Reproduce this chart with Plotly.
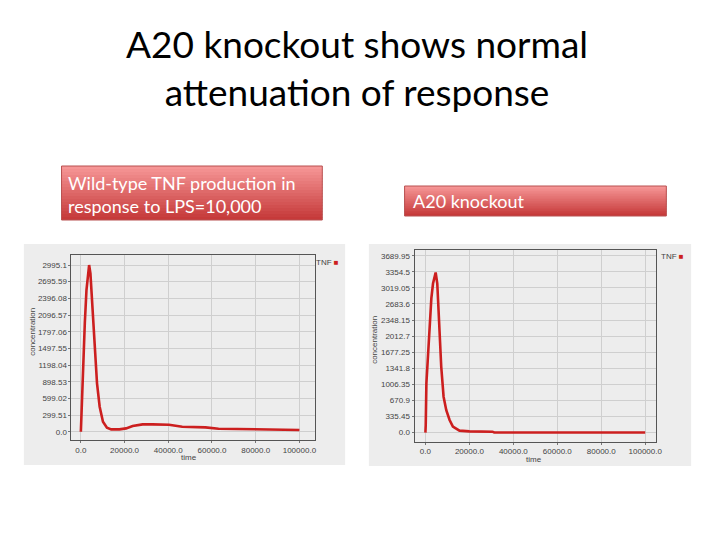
import plotly.graph_objects as go

# the page adds an 8px body margin, so the figure is drawn 8px in from the corner
OFF = 8
W, H = 720 - 2 * OFF, 540 - 2 * OFF

# wild-type TNF (left chart)
wt_time = [0, 450, 1060, 1810, 2570, 3320, 3780, 4380, 5290, 6340, 7400, 8610, 10120,
           11930, 13900, 17670, 20700, 23700, 28250, 32780, 40330, 46380, 57000,
           63000, 78100, 90180, 100000]
wt_tnf = [0, 570, 1170, 1950, 2545, 2905, 2995, 2845, 2246, 1468, 869, 449, 180,
          72, 42, 42, 60, 102, 132, 132, 126, 90, 78, 54, 42, 30, 30]
wt_ticks = [0.0, 299.51, 599.02, 898.53, 1198.04, 1497.55, 1797.06, 2096.57, 2396.08,
            2695.59, 2995.1]

# A20 knockout (right chart)
ko_time = [0, 150, 450, 1200, 2000, 2700, 3460, 4200, 4660, 5400, 6170, 7200, 8270,
           9500, 11000, 12500, 15500, 20000, 30500, 31300, 100000]
ko_tnf = [0, 160, 1030, 1720, 2420, 2800, 3110, 3290, 3340, 3110, 2280, 1375, 750,
          470, 264, 125, 42, 28, 21, 5, 3]
ko_ticks = [0.0, 335.45, 670.9, 1006.35, 1341.8, 1677.25, 2012.7, 2348.15, 2683.6,
            3019.05, 3354.5, 3689.95]

x_ticks = [0, 20000, 40000, 60000, 80000, 100000]


def px_x(v):
    return (v - OFF) / W


def px_y(v):
    return 1 - (v - OFF) / H


fig = go.Figure()
fig.add_trace(go.Scatter(x=wt_time, y=wt_tnf, mode="lines", xaxis="x", yaxis="y",
                         line=dict(color="#cc1f1f", width=2.6), showlegend=False))
fig.add_trace(go.Scatter(x=ko_time, y=ko_tnf, mode="lines", xaxis="x2", yaxis="y2",
                         line=dict(color="#cc1f1f", width=2.6), showlegend=False))

small = dict(family="Liberation Sans", size=8, color="#444")
common = dict(showline=True, linecolor="#555", linewidth=1, mirror=True,
              gridcolor="#cfcfcf", gridwidth=1, zeroline=False,
              ticks="outside", ticklen=2, tickcolor="#777", tickfont=small)

shapes = []
# grey image backgrounds
for x0, x1, y0, y1 in [(24, 348, 244, 465), (372, 697, 244, 466)]:
    shapes.append(dict(type="rect", xref="paper", yref="paper", x0=px_x(x0), x1=px_x(x1),
                       y0=px_y(y1), y1=px_y(y0), fillcolor="#ededed", line=dict(width=0),
                       layer="below"))
# red gradient label boxes
n = 18
top, bot = (246, 150, 150), (198, 58, 58)
for x0, x1, y0, y1 in [(62, 325, 166, 220), (408, 672, 186, 216)]:
    for i in range(n):
        t = i / (n - 1)
        c = tuple(int(top[k] + (bot[k] - top[k]) * t) for k in range(3))
        ya = y0 + (y1 - y0) * i / n
        yb = min(y1, y0 + (y1 - y0) * (i + 1) / n + 1)
        shapes.append(dict(type="rect", xref="paper", yref="paper", x0=px_x(x0), x1=px_x(x1),
                           y0=px_y(yb), y1=px_y(ya), fillcolor="rgb(%d,%d,%d)" % c,
                           line=dict(width=0), layer="below"))
    shapes.append(dict(type="rect", xref="paper", yref="paper", x0=px_x(x0), x1=px_x(x1),
                       y0=px_y(y1), y1=px_y(y0), line=dict(color="#b85050", width=1)))


def note(text, x, y, xa="center", **kw):
    return dict(text=text, x=px_x(x), y=px_y(y), xref="paper", yref="paper",
                showarrow=False, xanchor=xa, yanchor="middle", **kw)


annotations = [
    note("A20 knockout shows normal<br>attenuation of response", 360, 68, align="center",
         font=dict(family="Lato", size=37, color="#000")),
    note("Wild-type TNF production in<br>response to LPS=10,000", 66, 194, xa="left",
         align="left", font=dict(family="Lato", size=18, color="#fff")),
    note("A20 knockout", 414, 201, xa="left", font=dict(family="Lato", size=18, color="#fff")),
    note("concentration", 32, 332, textangle=-90, font=small),
    note("concentration", 378, 340, textangle=-90, font=small),
    note("time", 191, 457, font=small),
    note("time", 539, 459, font=small),
    note("TNF <span style='color:#cc1f1f'>■</span>", 317, 262, xa="left", font=small),
    note("TNF <span style='color:#cc1f1f'>■</span>", 665, 256, xa="left", font=small),
]

fig.update_layout(
    width=W, height=H, margin=dict(l=0, r=0, t=0, b=0),
    paper_bgcolor="white", plot_bgcolor="white", showlegend=False,
    shapes=shapes, annotations=annotations,
    xaxis=dict(domain=[px_x(72), px_x(318)], range=[-4300, 107300], anchor="y",
               tickvals=x_ticks, ticktext=["%.1f" % v for v in x_ticks], **common),
    yaxis=dict(domain=[px_y(440), px_y(255)], range=[-149, 3175], anchor="x",
               tickvals=wt_ticks, ticktext=[str(v) for v in wt_ticks], **common),
    xaxis2=dict(domain=[px_x(418), px_x(662)], range=[-4960, 105100], anchor="y2",
                tickvals=x_ticks, ticktext=["%.1f" % v for v in x_ticks], **common),
    yaxis2=dict(domain=[px_y(441.7), px_y(250)], range=[-188, 3809], anchor="x2",
                tickvals=ko_ticks, ticktext=[str(v) for v in ko_ticks], **common),
)

fig.write_html("out.html")
